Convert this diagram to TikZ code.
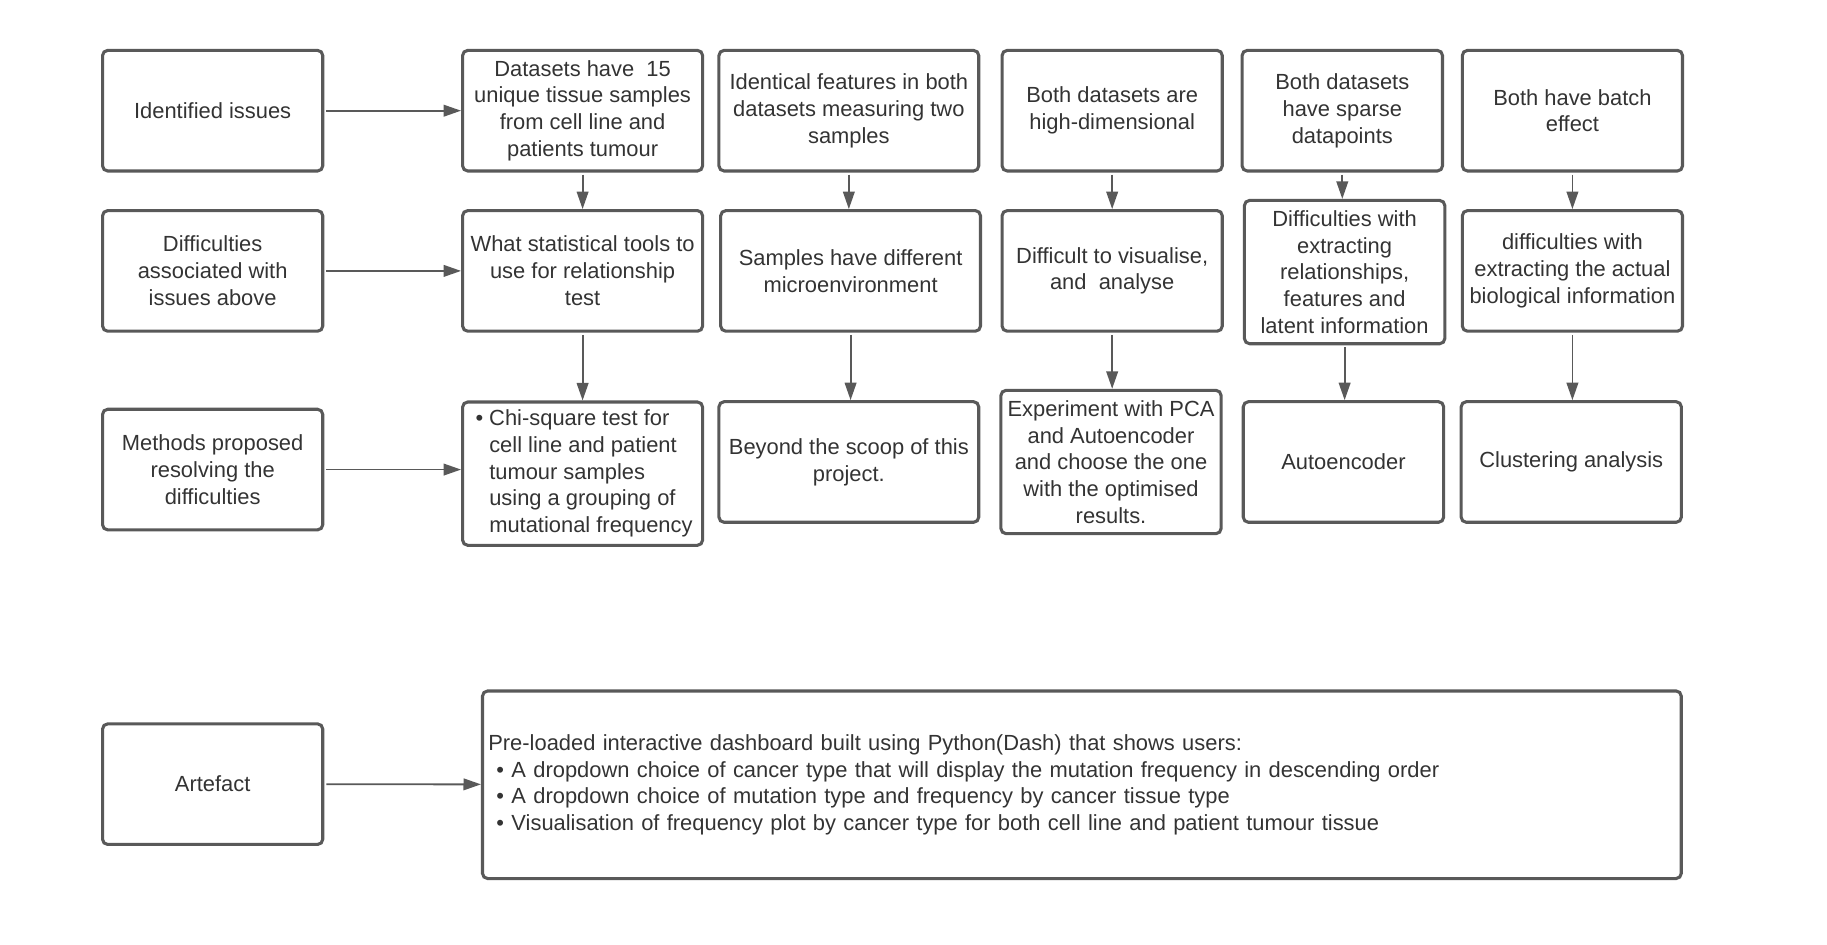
\documentclass[tikz,border=0pt]{standalone}
\usepackage{fontspec}
\setmainfont{Liberation Sans}
\usetikzlibrary{arrows.meta,positioning}
\definecolor{lcline}{HTML}{595959}
\definecolor{lctext}{HTML}{333333}

\begin{document}
\begin{tikzpicture}[x=0.02cm, y=-0.02cm,
    every node/.style={font=\fontsize{10.7}{13.1}\selectfont, text=lctext},
    box/.style={draw=lcline, line width=1.5pt, rounded corners=2.5pt, rectangle, align=center, inner sep=2pt, minimum height=2.07cm},
    tall/.style={box, minimum height=2.46cm},
    arr/.style={-{Triangle[length=0.3cm, width=0.2cm]}, draw=lcline, line width=0.9pt, shorten <=1pt}]
      \useasboundingbox (0,0) rectangle (1568,811);
      % row labels
      \node[box, minimum width=3.78cm] (issues) at (182.5,95) {Identified issues};
      \node[box, minimum width=3.78cm] (diffs) at (182.5,232.5) {Difficulties\\associated with\\issues above};
      \node[box, minimum width=3.78cm] (methods) at (182.5,403) {Methods proposed\\resolving the\\difficulties};
      \node[box, minimum width=3.78cm] (artefact) at (182.5,673) {Artefact};
      % identified issues
      \node[box, minimum width=4.12cm] (iss1) at (500,95) {Datasets have\ \ 15\\unique tissue samples\\from cell line and\\patients tumour};
      \node[box, minimum width=4.46cm] (iss2) at (728.5,95) {Identical features in both\\datasets measuring two\\samples};
      \node[box, minimum width=3.78cm] (iss3) at (954.5,95) {Both datasets are\\high-dimensional};
      \node[box, minimum width=3.44cm] (iss4) at (1152,95) {Both datasets\\have sparse\\datapoints};
      \node[box, minimum width=3.78cm] (iss5) at (1349.5,95) {Both have batch\\effect};
      % difficulties
      \node[box, minimum width=4.12cm] (dif1) at (500,232.5) {What statistical tools to\\use for relationship\\test};
      \node[box, minimum width=4.46cm] (dif2) at (730,232.5) {Samples have different\\microenvironment};
      \node[box, minimum width=3.78cm] (dif3) at (954.5,232.5) {Difficult to visualise,\\and\ \ analyse};
      \node[tall, minimum width=3.44cm] (dif4) at (1154,233.5) {Difficulties with\\extracting\\relationships,\\features and\\latent information};
      \node[box, minimum width=3.78cm] (dif5) at (1349.5,232.5) {difficulties with\\extracting the actual\\biological information};
      % methods
      \node[tall, minimum width=4.12cm] (met1) at (500,406.5) {\raisebox{-0.1cm}{\hspace*{0.05cm}\begin{tabular}{@{}l@{\ }l@{}}
        \textbullet & Chi-square test for\\ & cell line and patient\\ & tumour samples\\ & using a grouping of\\ & mutational frequency\end{tabular}}};
      \node[box, minimum width=4.46cm] (met2) at (728.5,396.5) {Beyond the scoop of this\\project.};
      \node[tall, minimum width=3.78cm] (met3) at (953.5,396.5) {Experiment with PCA\\and Autoencoder\\and choose the one\\with the optimised\\results.};
      \node[box, minimum width=3.44cm] (met4) at (1153,396.5) {Autoencoder};
      \node[box, minimum width=3.78cm] (met5) at (1348.5,396.5) {Clustering analysis};
      % artefact
      \node[box, align=left, text width=20.38cm, inner xsep=0.1cm, minimum height=3.22cm] (dash) at (928.5,673.5) {Pre-loaded interactive dashboard built using Python(Dash) that shows users:\\
        \hspace*{0.14cm}\textbullet\ A dropdown choice of cancer type that will display the mutation frequency in descending order\\
        \hspace*{0.14cm}\textbullet\ A dropdown choice of mutation type and frequency by cancer tissue type\\
        \hspace*{0.14cm}\textbullet\ Visualisation of frequency plot by cancer type for both cell line and patient tumour tissue};
      \draw[arr] (issues) -- (iss1);
      \draw[arr] (diffs) -- (dif1);
      \draw[arr] (methods) -- (met1.west |- methods);
      \draw[arr] (artefact) -- (dash);
      \foreach \i in {1,...,5} {
        \draw[arr] (iss\i.south) -- (iss\i.south |- dif\i.north);
        \draw[arr] (dif\i.south) -- (dif\i.south |- met\i.north);
      }
    \end{tikzpicture}
\end{document}
